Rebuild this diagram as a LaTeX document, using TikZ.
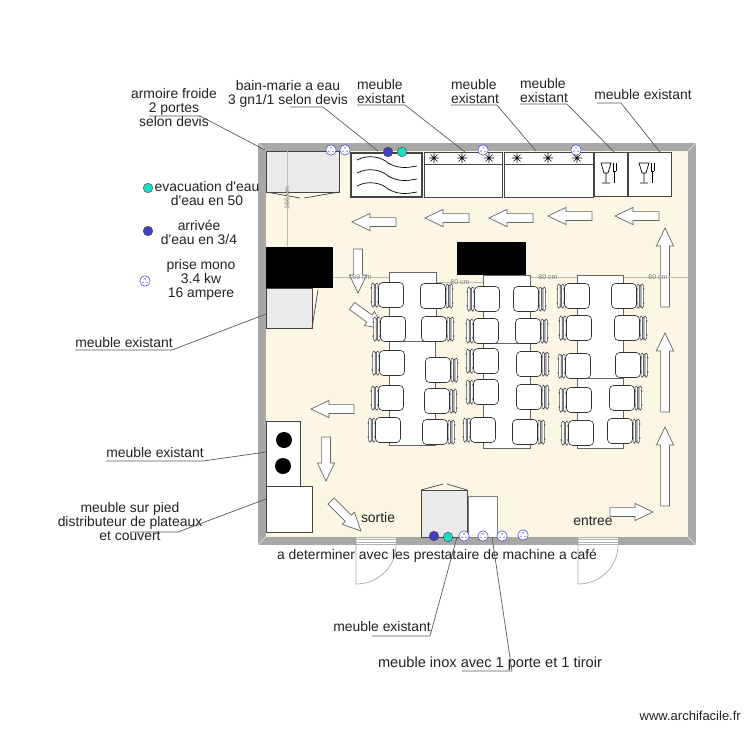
\documentclass[tikz,border=0pt]{standalone}
\usepackage{fontspec}
\newfontfamily\plainsans{Liberation Sans}
\definecolor{floorc}{HTML}{FCF6E4}
\definecolor{wallc}{HTML}{A8A8A8}
\definecolor{dimc}{HTML}{BDBDB5}
\definecolor{greybox}{HTML}{EAEAEA}
\definecolor{edgec}{HTML}{444444}
\definecolor{inkc}{HTML}{222222}
\definecolor{sockc}{HTML}{2A2AD8}
\definecolor{bluedot}{HTML}{4040C0}
\definecolor{tealdot}{HTML}{1FDCC0}
\tikzset{
  lbl/.style={text=inkc,font=\plainsans\fontsize{13.9}{14}\selectfont,inner sep=0pt,align=center},
  lblleft/.style={lbl,align=left},
  dimtext/.style={text=black!50,font=\plainsans\fontsize{7}{7}\selectfont,inner sep=0pt},
  dimline/.style={draw=dimc,line width=0.6pt},
  leader/.style={draw=black!65,line width=0.7pt},
  unit/.style={draw=edgec,line width=0.9pt,fill=white},
  greyunit/.style={draw=edgec,line width=0.9pt,fill=greybox},
  tablebox/.style={draw=black!60,line width=0.9pt,fill=white},
  seat/.style={draw=black!80,line width=0.6pt,fill=white,rounded corners=4pt},
  arrowbox/.style={draw=black!60,line width=0.7pt,fill=white},
}
\newcommand\blockarrow[4]{%
  \pgfmathsetmacro\arrang{atan2(-(#4-#2),#3-#1)}%
  \pgfmathsetmacro\arrlen{veclen(#3-#1,#4-#2)}%
  \pgfmathsetmacro\arrbk{\arrlen-18}%
  \begin{scope}[shift={(#1,#2)},rotate=\arrang]
    \draw[arrowbox] (0,-4.4)--(\arrbk,-4.4)--(\arrbk,-8.6)--(\arrlen,0)--(\arrbk,8.6)--(\arrbk,4.4)--(0,4.4)--cycle;
  \end{scope}}
\newcommand\chairat[3]{%
  \begin{scope}[shift={(#1,#2)},xscale=#3]
    \draw[black!70,line width=0.5pt,fill=white,rounded corners=1.5pt] (13,-12) rectangle (15.5,12);
    \draw[black!70,line width=0.5pt,fill=black!25,rounded corners=1pt] (15.5,-11) rectangle (17,11);
    \draw[black!70,line width=0.5pt,fill=white,rounded corners=1.5pt] (17,-12) rectangle (19.5,12);
    \fill[black!70] (19.8,-7) circle (0.9) (19.8,7) circle (0.9) (13,-7) circle (0.9) (13,7) circle (0.9);
    \draw[seat] (-12.5,-12.5) rectangle (12.5,12.5);
  \end{scope}}
\newcommand\socketat[2]{%
  \draw[sockc,line width=0.5pt,dash pattern=on 1.2pt off 0.4pt,fill=white] (#1,#2) circle (5.2);
  \fill[sockc] (#1,#2-2.2) circle (0.7) (#1-2,#2+1.2) circle (0.7) (#1+2,#2+1.2) circle (0.7);}
\newcommand\dotat[3]{\draw[edgec,line width=0.4pt,fill=#3] (#1,#2) circle (4.8);}
\newcommand\asterat[2]{%
  \draw[black,line width=0.6pt] (#1-5,#2)--(#1+5,#2) (#1,#2-5)--(#1,#2+5) (#1-3.5,#2-3.5)--(#1+3.5,#2+3.5) (#1-3.5,#2+3.5)--(#1+3.5,#2-3.5);}
\newcommand\cutlery[2]{%
  \draw[black,line width=0.7pt] (#1-5,#2-10)--(#1+5,#2-10)--(#1+2,#2)--(#1-2,#2)--cycle (#1,#2)--(#1,#2+9) (#1-4,#2+10)--(#1+4,#2+10);
  \draw[black,line width=0.7pt] (#1+7,#2-10)--(#1+7,#2-2) (#1+10,#2-10)--(#1+10,#2-2) (#1+7,#2-2)--(#1+10,#2-2) (#1+8.5,#2-2)--(#1+8.5,#2+10);}
\begin{document}
\begin{tikzpicture}[x=1pt,y=-1pt]
\useasboundingbox (0,0) rectangle (750,750);
% room
\fill[wallc] (258,143) rectangle (696,545);
\fill[floorc] (266,151) rectangle (688,537);
\draw[white!70!wallc,line width=0.4pt] (258,143)--(266,151) (696,143)--(688,151) (258,545)--(266,537) (696,545)--(688,537);
% doors
\fill[white] (356,537) rectangle (396,545);
\draw[black!30,line width=0.6pt] (356,537)--(396,537) (356,539.5)--(396,539.5) (356,542)--(396,542) (356,544.5)--(396,544.5);
\draw[black!35,line width=0.7pt] (356,537)--(356,584) .. controls (378,584) and (396,567) .. (396,545);
\fill[white] (578,537) rectangle (618,545);
\draw[black!30,line width=0.6pt] (578,537)--(618,537) (578,539.5)--(618,539.5) (578,542)--(618,542) (578,544.5)--(618,544.5);
\draw[black!35,line width=0.7pt] (578,537)--(578,584) .. controls (600,584) and (618,567) .. (618,545);
% arrows
\blockarrow{396}{222}{352}{222}
\blockarrow{469}{218}{425}{218}
\blockarrow{533}{218}{489}{218}
\blockarrow{592}{216}{548}{216}
\blockarrow{659}{216}{615}{216}
\blockarrow{665}{307}{665}{228}
\blockarrow{665}{412}{665}{333}
\blockarrow{665}{506}{665}{427}
\blockarrow{610}{512}{653}{512}
\blockarrow{358}{249}{358}{293}
\blockarrow{352}{306}{384}{329}
\blockarrow{354}{409}{311}{409}
\blockarrow{326}{437}{326}{481}
\blockarrow{331}{501}{361}{531}
% furniture, upper wall
\draw[greyunit] (266,151) rectangle (339,192);
\draw[edgec,line width=0.7pt] (266,192)--(300,198) (304,198)--(339,192);
\draw[unit,line width=1.1pt] (351,153) rectangle (422,197);
\foreach \dy in {0,13,26}{
  \draw[black,line width=0.7pt] (357,160+\dy) .. controls (368,154+\dy) and (382,157+\dy) .. (388,163+\dy) .. controls (400,170+\dy) and (410,167+\dy) .. (417,166+\dy);}
\draw[unit] (424,152) rectangle (502,197);
\draw[edgec,line width=0.8pt] (424,164)--(502,164);
\draw[unit] (504,152) rectangle (593,197);
\draw[edgec,line width=0.8pt] (504,164)--(593,164);
\asterat{434}{158}\asterat{462}{158}\asterat{489}{158}
\asterat{517}{158}\asterat{548}{158}\asterat{577}{158}
\draw[unit] (594,152) rectangle (627,196);
\draw[unit] (628,152) rectangle (671,196);
\cutlery{606}{173}\cutlery{644}{173}
% dimension lines
\draw[dimline] (287,151)--(287,247);
\draw[dimline] (333,277)--(389,277);
\draw[dimline] (436,282)--(483,282);
\draw[dimline] (530,277)--(577,277);
\draw[dimline] (623,277)--(688,277);
\node[dimtext,rotate=90] (d166) at (287,198) {166 cm};
\node[dimtext] (d159) at (360,277) {159 cm};
\node[dimtext] (d80a) at (460,282) {80 cm};
\node[dimtext] (d80b) at (548,277) {80 cm};
\node[dimtext] (d80c) at (658,277) {80 cm};
% left wall
\draw[greyunit] (266,288) rectangle (312,328);
\draw[edgec,line width=0.7pt] (312,328)--(318,290);
\fill[black] (266,247) rectangle (333,288);
\fill[black] (457,242) rectangle (526,275);
\draw[unit] (266,421) rectangle (300,486);
\fill[black] (284,440) circle (8) (283,466) circle (8);
\draw[unit] (266,486) rectangle (312,532);
% bottom furniture
\draw[greyunit] (421,490) rectangle (467,537);
\draw[edgec,line width=0.7pt] (421,490)--(443,484) (447,484)--(467,490);
\draw[unit,draw=black!50] (468,496) rectangle (497,537);
% tables
\draw[tablebox] (389,272) rectangle (436,341);
\draw[tablebox] (389,341) rectangle (435,445);
\draw[tablebox] (483,275) rectangle (530,343);
\draw[tablebox] (483,343) rectangle (530,448);
\draw[tablebox] (577,275) rectangle (623,378);
\draw[tablebox] (577,378) rectangle (623,448);
% chairs
\chairat{391}{295}{-1}\chairat{393}{329}{-1}\chairat{392}{363}{-1}\chairat{391}{398}{-1}\chairat{388}{430}{-1}
\chairat{433}{296}{1}\chairat{434}{329}{1}\chairat{438}{370}{1}\chairat{437}{401}{1}\chairat{435}{432}{1}
\chairat{487}{299}{-1}\chairat{486}{331}{-1}\chairat{486}{361}{-1}\chairat{486}{392}{-1}\chairat{483}{430}{-1}
\chairat{526}{299}{1}\chairat{528}{331}{1}\chairat{529}{364}{1}\chairat{529}{397}{1}\chairat{525}{432}{1}
\chairat{577}{296}{-1}\chairat{579}{328}{-1}\chairat{578}{366}{-1}\chairat{579}{400}{-1}\chairat{581}{433}{-1}
\chairat{624}{296}{1}\chairat{627}{328}{1}\chairat{628}{365}{1}\chairat{622}{398}{1}\chairat{620}{431}{1}
% services
\socketat{331}{150}\socketat{345}{150}\socketat{483}{150}\socketat{576}{150}
\dotat{388}{152}{bluedot}\dotat{402}{152}{tealdot}
\dotat{434}{536}{bluedot}\dotat{448}{537}{tealdot}
\socketat{464}{536}\socketat{483}{536}\socketat{502}{536}\socketat{523}{535}
\dotat{148}{188}{tealdot}\dotat{148}{231}{bluedot}\socketat{145}{281}
% labels
\node[lbl] (tarm) at (174,108) {armoire froide\\2 portes\\selon devis};
\node[lbl] (tbain) at (288,94) {bain-marie a eau\\3 gn1/1 selon devis};
\node[lblleft] (tm1) at (381,92) {meuble\\existant};
\node[lblleft] (tm2) at (475,92) {meuble\\existant};
\node[lblleft] (tm3) at (544,91) {meuble\\existant};
\node[lbl] (tm4) at (643,95) {meuble existant};
\node[lbl] (tevac) at (207,194) {evacuation d'eau\\d'eau en 50};
\node[lbl] (tarr) at (199,232) {arrivée\\d'eau en 3/4};
\node[lbl] (tprise) at (201,280) {prise mono\\3.4 kw\\16 ampere};
\node[lbl] (tm5) at (124,343) {meuble existant};
\node[lbl] (tm6) at (155,453) {meuble existant};
\node[lbl] (tdist) at (130,522) {meuble sur pied\\distributeur de plateaux\\et couvert};
\node[lbl] (tsortie) at (378,518) {sortie};
\node[lbl] (tentree) at (593,521) {entree};
\node[lbl] (tcafe) at (437,556) {a determiner avec les prestataire de machine a café};
\node[lbl] (tm7) at (382,627) {meuble existant};
\node[lbl,font=\plainsans\fontsize{14.6}{14.6}\selectfont] (tinox) at (490,664) {meuble inox avec 1 porte et 1 tiroir};
\node[text=inkc,font=\plainsans\fontsize{13}{13}\selectfont,inner sep=0pt,anchor=east] (tsite) at (741,716) {www.archifacile.fr};
% leaders
\foreach \nm/\xa/\ya/\xb/\yb/\xc/\yc in {
  a/149/116/200/116/265/150,
  b/290/107/323/107/378/151,
  c/357/105/405/105/465/152,
  d/451/105/497/105/536/151,
  e/520/104/567/104/614/152,
  f/597/103/621/103/660/152,
  g/75/350/172/350/266/314,
  h/106/461/203/461/266/452,
  i/130/532/178/532/266/499,
  j/372/636/430/636/457/537,
  k/462/671/512/671/492/537}{
  \coordinate (\nm1) at (\xa,\ya);
  \coordinate (\nm2) at (\xb,\yb);
  \coordinate (\nm3) at (\xc,\yc);
  \draw[leader] (\nm1)--(\nm2)--(\nm3);
}
\end{tikzpicture}
\end{document}
